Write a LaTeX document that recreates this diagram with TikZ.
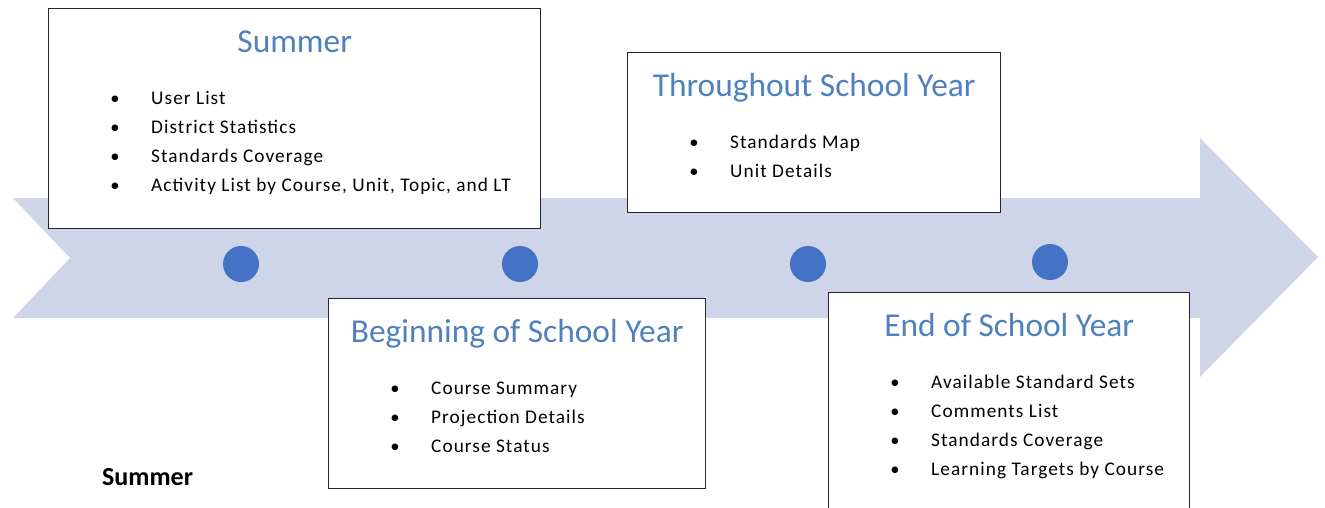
\documentclass[tikz,border=0pt]{standalone}
\usepackage{fontspec}
\setmainfont{Carlito}
\usetikzlibrary{positioning}

\definecolor{bandfill}{RGB}{207,213,233}
\definecolor{dotblue}{RGB}{68,114,196}
\definecolor{headblue}{RGB}{79,129,189}

\tikzset{
    panel/.style={draw=black!85, line width=1.4pt, fill=white, anchor=north west, inner sep=0pt},
    heading/.style={text=headblue, font=\fontsize{33.4}{38}\selectfont, inner sep=0pt, anchor=base},
    entry/.style={font=\fontsize{19.3}{22}\selectfont\addfontfeature{LetterSpace=5.5}, inner sep=0pt, anchor=base west},
    bullet/.style={font=\fontsize{18.6}{22}\selectfont, inner sep=0pt, anchor=base},
    milestone/.style={circle, fill=dotblue, minimum size=36pt, inner sep=0pt},
}

% #1 name, #2 top left corner, #3 width, #4 height, #5 heading, #6 items
\newcommand{\phasebox}[6]{
    \node [panel, minimum width=#3pt, minimum height=#4pt] (#1) at (#2) {};
    \node [heading] (#1-head) at ([yshift=-44pt]#1.north) {#5};
    \foreach \txt [count=\i, evaluate=\i as \dy using 96+29.3*(\i-1)] in {#6} {
        \node [bullet] (#1-dot-\i) at ([xshift=67pt, yshift=-\dy pt]#1.north west) {\textbullet};
        \node [entry] (#1-item-\i) at ([xshift=103pt, yshift=-\dy pt]#1.north west) {\txt};
    }
}

\begin{document}
\begin{tikzpicture}[x=1pt, y=-1pt]
    \useasboundingbox (0,0) rectangle (1325,507);
    \clip (0,0) rectangle (1325,507);

    % timeline arrow
    \fill [bandfill] (13,198) -- (1200,198) -- (1200,138) -- (1318,257)
        -- (1200,377) -- (1200,318) -- (13,318) -- (70,258) -- cycle;

    \node [milestone] (m1) at (241,264) {};
    \node [milestone] (m2) at (520,264) {};
    \node [milestone] (m3) at (808,264) {};
    \node [milestone] (m4) at (1050,262) {};

    \phasebox{summer}{48,8}{492}{220}{Summer}
        {User List, District Statistics, Standards Coverage, {Activity List by Course, Unit, Topic, and LT}}
    \phasebox{through}{627,52}{373}{160}{Throughout School Year}
        {Standards Map, Unit Details}
    \phasebox{begin}{328,298}{377}{190}{Beginning of School Year}
        {Course Summary, Projection Details, Course Status}
    \phasebox{end}{828,292}{361}{240}{End of School Year}
        {Available Standard Sets, Comments List, Standards Coverage, Learning Targets by Course}

    \node [anchor=base west, inner sep=0pt, font=\bfseries\fontsize{26}{30}\selectfont] (caption) at (102,485) {Summer};
\end{tikzpicture}
\end{document}
